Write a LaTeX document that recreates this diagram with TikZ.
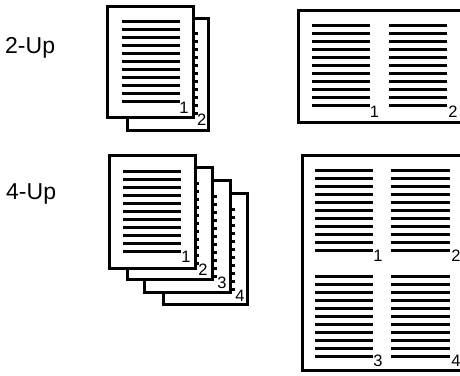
\documentclass[tikz,border=0pt]{standalone}
\usepackage{fontspec}
\setmainfont{Liberation Sans}
\tikzset{
  pageframe/.style={draw=black, fill=white, line width=3pt},
  textline/.style={draw=black, line width=3pt},
  numlabel/.style={font=\fontsize{16.5}{16.5}\selectfont, inner sep=0pt},
  uplabel/.style={font=\fontsize{23}{23}\selectfont, inner sep=0pt, anchor=base west},
}
% #1 x, #2 y, #3 w, #4 h, #5 line x offset, #6 line length, #7 first line y offset
\newcommand{\docpage}[7]{%
  \draw[pageframe] (#1,#2) rectangle ++(#3,#4);
  \foreach \k in {0,...,10} \draw[textline] ({#1+#5},{#2+#7+8*\k}) -- ++(#6,0);
}
% #1 x, #2 first y, #3 length
\newcommand{\lineblock}[3]{%
  \foreach \k in {0,...,10} \draw[textline] (#1,{#2+8*\k}) -- ++(#3,0);
}
\begin{document}
\begin{tikzpicture}[x=1pt,y=-1pt]
\useasboundingbox (0,0) rectangle (460,375);
\clip (0,0) rectangle (460,375);

% labels
\node[uplabel] (twoup) at (5,53.3) {2-Up};
\node[uplabel] (fourup) at (6,199) {4-Up};

% 2-Up stack
\docpage{127.5}{18.5}{81}{112}{14}{56}{15}
\node[numlabel] (s2p2) at (201.7,119.7) {2};
\docpage{107.5}{6.5}{86}{111}{14}{58}{15}
\node[numlabel] (s2p1) at (184,107.5) {1};

% 4-Up stack
\docpage{163.5}{193.5}{84}{111}{13}{58}{16}
\node[numlabel] (s4p4) at (240,296) {4};
\docpage{144.5}{180.5}{86}{112}{13}{59}{16}
\node[numlabel] (s4p3) at (222,283) {3};
\docpage{127.5}{167.5}{85}{112}{13}{58}{16}
\node[numlabel] (s4p2) at (203,270) {2};
\docpage{109.5}{155.5}{86}{113}{13}{58}{16}
\node[numlabel] (s4p1) at (186,257) {1};

% 2-Up sheet
\draw[pageframe] (298.5,10.5) rectangle (475,122.5);
\lineblock{312}{25.5}{58}
\lineblock{389}{25.5}{58}
\node[numlabel] (r2n1) at (374.5,111.5) {1};
\node[numlabel] (r2n2) at (453,111.5) {2};

% 4-Up sheet
\draw[pageframe] (302.5,155.5) rectangle (475,370.5);
\lineblock{315}{170.5}{58}
\lineblock{391}{170.5}{59}
\lineblock{315}{276.5}{58}
\lineblock{391}{276.5}{59}
\node[numlabel] (r4n1) at (378,256) {1};
\node[numlabel] (r4n2) at (456,256) {2};
\node[numlabel] (r4n3) at (378,361) {3};
\node[numlabel] (r4n4) at (456,361) {4};
\end{tikzpicture}
\end{document}
